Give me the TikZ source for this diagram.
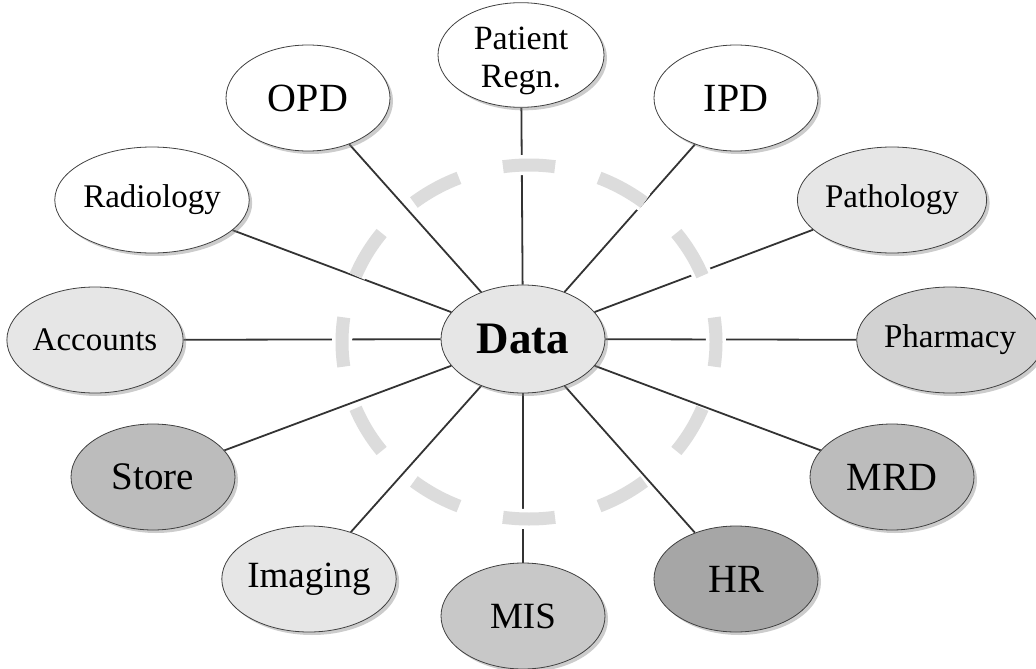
\documentclass[tikz,border=0pt]{standalone}
\usepackage{fontspec}
\setmainfont{Liberation Serif}
\usetikzlibrary{shapes.geometric,shadows,backgrounds}
\definecolor{cwhite}{HTML}{FFFFFF}
\definecolor{clight}{HTML}{E6E6E6}
\definecolor{cmid}{HTML}{D2D2D2}
\definecolor{cmis}{HTML}{C8C8C8}
\definecolor{cdark}{HTML}{BCBCBC}
\definecolor{cdarker}{HTML}{A6A6A6}
\definecolor{ringgray}{HTML}{DCDCDC}
\begin{document}
\begin{tikzpicture}[x=1pt,y=-1pt,
  bub/.style={ellipse, draw=black!75, line width=0.8pt, minimum width=164pt,
    minimum height=106pt, inner sep=0pt, align=center,
    drop shadow={shadow xshift=3pt, shadow yshift=-3pt, fill=black!50, opacity=0.4}},
  lbl/.style={font=\fontsize{#1}{#1}\selectfont},
  spoke/.style={draw=black!80, line width=1.8pt},
  ringhalo/.style={draw=white, line width=20pt},
  ringdash/.style={draw=ringgray, line width=13pt}]
\useasboundingbox (0,0) rectangle (1036,669);

% nodes
\node[bub, fill=clight, minimum height=108pt, font=\fontsize{45}{45}\selectfont\bfseries] (data) at (523,339) {Data};
\node[bub, fill=cwhite, minimum width=166pt, minimum height=97pt, font=\fontsize{34}{36}\selectfont] (pat) at (521,55)
  {\raisebox{-6pt}[\height][\depth]{\begin{tabular}{@{}c@{}}Patient\\[2pt]Regn.\end{tabular}}};
\node[bub, fill=cwhite, lbl=40] (opd) at (308,98) {OPD};
\node[bub, fill=cwhite, lbl=40] (ipd) at (736,98) {IPD};
\node[bub, fill=cwhite, lbl=33] (rad) at (152,200) {Radiology};
\node[bub, fill=clight, lbl=33] (path) at (892,200) {Pathology};
\node[bub, fill=clight, lbl=33] (acc) at (95,340) {Accounts};
\node[bub, fill=cmid, lbl=33] (pha) at (950,340) {Pharmacy};
\node[bub, fill=cdark, lbl=39] (store) at (153,477) {Store};
\node[bub, fill=cdark, lbl=40] (mrd) at (892,477) {MRD};
\node[bub, fill=clight, lbl=37] (img) at (309,579) {Imaging};
\node[bub, fill=cdarker, lbl=40] (hr) at (736,579) {HR};
\node[bub, fill=cmis, lbl=37] (mis) at (523,616) {MIS};

\begin{pgfonlayer}{background}
  \foreach \n in {pat,opd,ipd,rad,path,acc,pha,store,mrd,img,hr,mis}
    \draw[spoke] (data) -- (\n);
  \foreach \a in {0,30,...,330} {
    \draw[ringhalo] (529,342) ++(\a-8:187 and 177)
      arc[start angle=\a-8, end angle=\a+8, x radius=187, y radius=177];
    \draw[ringdash] (529,342) ++(\a-8:187 and 177)
      arc[start angle=\a-8, end angle=\a+8, x radius=187, y radius=177];
  }
\end{pgfonlayer}
\end{tikzpicture}
\end{document}
